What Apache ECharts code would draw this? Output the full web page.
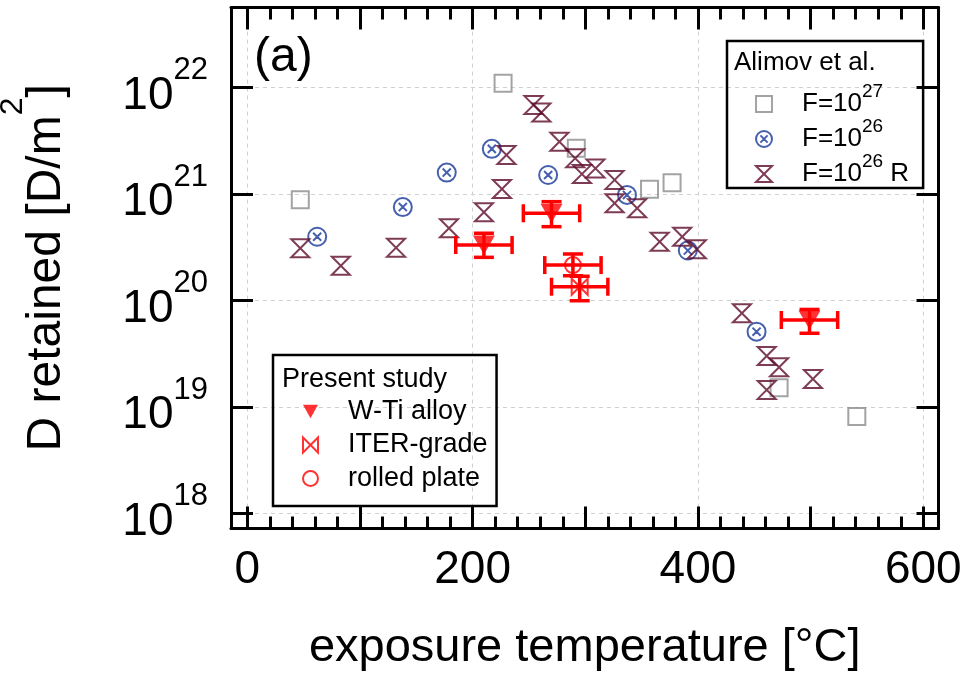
<!DOCTYPE html>
<html><head><meta charset="utf-8">
<script src="https://cdn.jsdelivr.net/npm/echarts@6/dist/echarts.min.js"></script>
<style>html,body{margin:0;padding:0;background:#fff}#c{width:963px;height:680px}</style>
</head><body><div id="c"></div>
<script>
// ---------- data ----------
const xTickMajor = [0, 100, 200, 300, 400, 500, 600];
const xTickMinor = [20, 40, 60, 80, 120, 140, 160, 180, 220, 240, 260, 280, 320, 340, 360, 380, 420, 440, 460, 480, 520, 540, 560, 580];
const xTickLabels = [0, 200, 400, 600];

// Alimov et al., F=10^27 (grey squares)
const f27X = [47, 227, 292, 357, 377, 472, 541];
const f27Y = [8.8e20, 1.09e22, 2.67e21, 1.10e21, 1.27e21, 1.51e19, 8.1e18];
// Alimov et al., F=10^26 (blue circled x)
const f26X = [62, 138, 177, 217, 267, 337, 391, 452];
const f26Y = [3.95e20, 7.5e20, 1.58e21, 2.64e21, 1.50e21, 9.75e20, 2.93e20, 5.07e19];
// Alimov et al., F=10^26 R (maroon hourglass)
const f26RX = [47, 83, 132, 179, 210, 226, 230, 254, 261, 277, 291, 297, 309, 326, 326, 346, 366, 386, 399, 439, 461, 472, 461, 502];
const f26RY = [3.08e20, 2.11e20, 3.12e20, 4.74e20, 6.7e20, 1.11e21, 2.31e21, 6.8e21, 5.8e21, 3.08e21, 2.15e21, 1.53e21, 1.73e21, 1.35e21, 8.15e20, 7.3e20, 3.55e20, 3.95e20, 3.01e20, 7.55e19, 3.0e19, 2.35e19, 1.44e19, 1.82e19];

// Present study
const wtiX = [210, 270, 499];
const wtiY = [3.3e20, 6.56e20, 6.53e19];
const wtiXErr = [25, 25, 25];
const wtiYLow = [2.53e20, 4.91e20, 4.9e19];
const wtiYHigh = [4.26e20, 8.43e20, 8.2e19];

const iterX = [295];
const iterY = [1.34e20];
const iterXErr = [25];
const iterYLow = [9.9e19];
const iterYHigh = [1.68e20];

const rolledX = [289];
const rolledY = [2.14e20];
const rolledXErr = [25];
const rolledYLow = [1.70e20];
const rolledYHigh = [2.72e20];

// ---------- helpers ----------
const FONT = "'Liberation Sans', Arial, Helvetica, sans-serif";
const X_MIN = -14.5, X_MAX = 613.5;
const Y_MIN = Math.pow(10, 17.857), Y_MAX = Math.pow(10, 22.749);

function pts(xs, ys) { return xs.map((x, i) => [x, ys[i]]); }
function errPts(xs, ys, dx, lo, hi) { return xs.map((x, i) => [x, ys[i], dx[i], lo[i], hi[i]]); }

const RED = '#ff0000', GREY = '#8c8c8c', BLUE = '#18389a', MAROON = '#5e0a2a';

const SYM_CX = 'path://M20,10A10,10,0,1,1,0,10A10,10,0,1,1,20,10ZM5.5,5.5L14.5,14.5M14.5,5.5L5.5,14.5';
const SYM_HOUR = 'path://M0,0L20,0L0,20L20,20Z';
const SYM_TRI = 'path://M0,0L20,0L10,18Z';
const SYM_BOW = 'path://M0,0L0,20L20,0L20,20Z';

function errRender(params, api) {
  const x = api.value(0), y = api.value(1), dx = api.value(2), lo = api.value(3), hi = api.value(4);
  const pL = api.coord([x - dx, y]), pR = api.coord([x + dx, y]);
  const pT = api.coord([x, hi]), pB = api.coord([x, lo]);
  const st = { stroke: RED, lineWidth: 3.5, fill: null };
  const capV = 9, capH = 10;
  const L = (x1, y1, x2, y2) => ({ type: 'line', shape: { x1, y1, x2, y2 }, style: st });
  return {
    type: 'group', children: [
      L(pL[0], pL[1], pR[0], pR[1]),
      L(pL[0], pL[1] - capV, pL[0], pL[1] + capV),
      L(pR[0], pR[1] - capV, pR[0], pR[1] + capV),
      L(pT[0], pT[1], pB[0], pB[1]),
      L(pT[0] - capH, pT[1], pT[0] + capH, pT[1]),
      L(pB[0] - capH, pB[1], pB[0] + capH, pB[1])
    ]
  };
}

const axisLineStyle = { show: true, onZero: false, lineStyle: { color: '#000', width: 3 } };
const tickStyle = { color: '#000', width: 3 };

function xAxisDef(pos, opts) {
  return Object.assign({
    type: 'value', position: pos, min: X_MIN, max: X_MAX,
    axisLine: { show: false, onZero: false },
    axisTick: { show: false },
    axisLabel: { show: false },
    splitLine: { show: false }
  }, opts);
}

const legendMap = {
  'F27': '{sp| }{b|F=10}{s|27}',
  'F26': '{sp| }{b|F=10}{s|26}',
  'F26R': '{sp| }{b|F=10}{s|26}{b| R}'
};

const option = {
  animation: false,
  textStyle: { fontFamily: FONT, color: '#000' },
  grid: { left: 231, top: 7.5, right: 24.5, bottom: 151.5, containLabel: false, outerBoundsMode: 'none' },
  title: [
    { text: '(a)', left: 254, top: 34, padding: 0, textStyle: { fontSize: 48, fontWeight: 'normal', color: '#000', fontFamily: FONT } },
    { text: 'Alimov et al.', left: 734, top: 50, padding: 0, textStyle: { fontSize: 26, fontWeight: 'normal', color: '#000', fontFamily: FONT } },
    { text: 'Present study', left: 282, top: 366, padding: 0, textStyle: { fontSize: 27, fontWeight: 'normal', color: '#000', fontFamily: FONT } }
  ],
  legend: [
    {
      orient: 'vertical', left: 727, top: 41, padding: [41, 14, 1, 28],
      itemWidth: 16, itemHeight: 16, itemGap: 0,
      borderColor: '#000', borderWidth: 2.5, selectedMode: false,
      data: ['F27', 'F26', 'F26R'],
      formatter: n => legendMap[n],
      textStyle: {
        color: '#000', fontFamily: FONT,
        rich: {
          sp: { width: 25, fontSize: 10 },
          b: { fontSize: 26, lineHeight: 44, color: '#000', fontFamily: FONT },
          s: { fontSize: 19, lineHeight: 17, verticalAlign: 'top', color: '#000', fontFamily: FONT }
        }
      }
    },
    {
      orient: 'vertical', left: 273, top: 355, padding: [43, 9, 14, 29],
      itemWidth: 15, itemHeight: 15, itemGap: 6.5,
      borderColor: '#000', borderWidth: 2.5, selectedMode: false,
      data: ['W-Ti alloy', 'ITER-grade', 'rolled plate'],
      formatter: n => '{sp| }{t|' + n + '}',
      textStyle: {
        color: '#000', fontFamily: FONT,
        rich: {
          sp: { width: 25, fontSize: 10 },
          t: { fontSize: 27, lineHeight: 26, color: '#000', fontFamily: FONT }
        }
      }
    }
  ],
  xAxis: [
    xAxisDef('bottom', {
      axisLine: axisLineStyle,
      axisTick: { show: true, inside: true, length: 22, lineStyle: tickStyle, customValues: xTickMajor },
      axisLabel: { show: true, customValues: xTickLabels, fontSize: 46, color: '#000', margin: 19, fontFamily: FONT },
      name: 'exposure temperature [°C]', nameLocation: 'middle', nameGap: 96,
      nameTextStyle: { fontSize: 47, color: '#000', fontFamily: FONT }
    }),
    xAxisDef('top', {
      axisLine: axisLineStyle,
      axisTick: { show: true, inside: true, length: 22, lineStyle: tickStyle, customValues: xTickMajor }
    }),
    xAxisDef('bottom', {
      axisTick: { show: true, inside: true, length: 12, lineStyle: tickStyle, customValues: xTickMinor }
    }),
    xAxisDef('top', {
      axisTick: { show: true, inside: true, length: 12, lineStyle: tickStyle, customValues: xTickMinor }
    }),
    xAxisDef('bottom', {
      axisTick: { show: false, customValues: xTickLabels },
      splitLine: { show: true, lineStyle: { color: '#cfcfcf', width: 1, type: [4, 4] } }
    })
  ],
  yAxis: [
    {
      type: 'log', logBase: 10, position: 'left', min: Y_MIN, max: Y_MAX,
      axisLine: axisLineStyle,
      axisTick: { show: true, inside: true, length: 22, lineStyle: tickStyle },
      minorTick: { show: false },
      splitLine: { show: true, lineStyle: { color: '#cfcfcf', width: 1, type: [4, 4] } },
      axisLabel: {
        margin: 23,
        formatter: v => {
          const e = Math.log10(v), r = Math.round(e);
          if (Math.abs(e - r) > 1e-6) return '';
          return '{h| }{b|10}{s|' + r + '}';
        },
        rich: {
          h: { fontSize: 1, lineHeight: 64 },
          b: { fontSize: 46, lineHeight: 46, verticalAlign: 'bottom', color: '#000', fontFamily: FONT },
          s: { fontSize: 31, lineHeight: 32, verticalAlign: 'top', color: '#000', fontFamily: FONT }
        }
      },
      name: '{h| }{b|D retained [D/m}{s|2}{b|]}', nameLocation: 'middle', nameRotate: 90, nameGap: 160,
      nameTextStyle: {
        rich: {
          h: { fontSize: 1, lineHeight: 74 },
          b: { fontSize: 48, lineHeight: 48, verticalAlign: 'bottom', color: '#000', fontFamily: FONT },
          s: { fontSize: 32, lineHeight: 49, verticalAlign: 'top', color: '#000', fontFamily: FONT }
        }
      }
    },
    {
      type: 'log', logBase: 10, position: 'right', min: Y_MIN, max: Y_MAX,
      axisLine: axisLineStyle,
      axisTick: { show: true, inside: true, length: 22, lineStyle: tickStyle },
      axisLabel: { show: false },
      splitLine: { show: false }
    }
  ],
  series: [
    {
      name: 'F27', type: 'scatter', xAxisIndex: 0, yAxisIndex: 0, data: pts(f27X, f27Y),
      symbol: 'rect', symbolSize: 17,
      itemStyle: { color: 'rgba(255,255,255,0)', borderColor: GREY, borderWidth: 2 }
    },
    {
      name: 'F26', type: 'scatter', xAxisIndex: 0, yAxisIndex: 0, data: pts(f26X, f26Y),
      symbol: SYM_CX, symbolSize: 18,
      itemStyle: { color: 'rgba(255,255,255,0)', borderColor: BLUE, borderWidth: 2 }
    },
    {
      name: 'F26R', type: 'scatter', xAxisIndex: 0, yAxisIndex: 0, data: pts(f26RX, f26RY),
      symbol: SYM_HOUR, symbolSize: [18, 18],
      itemStyle: { color: 'rgba(255,255,255,0)', borderColor: MAROON, borderWidth: 2 }
    },
    { name: 'wti-err', type: 'custom', xAxisIndex: 0, yAxisIndex: 0, renderItem: errRender, encode: { x: 0, y: 1 }, data: errPts(wtiX, wtiY, wtiXErr, wtiYLow, wtiYHigh), z: 3 },
    { name: 'iter-err', type: 'custom', xAxisIndex: 0, yAxisIndex: 0, renderItem: errRender, encode: { x: 0, y: 1 }, data: errPts(iterX, iterY, iterXErr, iterYLow, iterYHigh), z: 3 },
    { name: 'rolled-err', type: 'custom', xAxisIndex: 0, yAxisIndex: 0, renderItem: errRender, encode: { x: 0, y: 1 }, data: errPts(rolledX, rolledY, rolledXErr, rolledYLow, rolledYHigh), z: 3 },
    {
      name: 'W-Ti alloy', type: 'scatter', xAxisIndex: 0, yAxisIndex: 0, data: pts(wtiX, wtiY), z: 4,
      symbol: SYM_TRI, symbolSize: [22, 19],
      itemStyle: { color: RED, borderColor: RED, borderWidth: 0 }
    },
    {
      name: 'ITER-grade', type: 'scatter', xAxisIndex: 0, yAxisIndex: 0, data: pts(iterX, iterY), z: 4,
      symbol: SYM_BOW, symbolSize: [16, 16],
      itemStyle: { color: 'rgba(255,255,255,0)', borderColor: RED, borderWidth: 2 }
    },
    {
      name: 'rolled plate', type: 'scatter', xAxisIndex: 0, yAxisIndex: 0, data: pts(rolledX, rolledY), z: 4,
      symbol: 'circle', symbolSize: 16,
      itemStyle: { color: 'rgba(255,255,255,0)', borderColor: RED, borderWidth: 2 }
    }
  ]
};

const chart = echarts.init(document.getElementById('c'), null, { renderer: 'canvas' });
chart.setOption(option);
</script>
</body></html>
